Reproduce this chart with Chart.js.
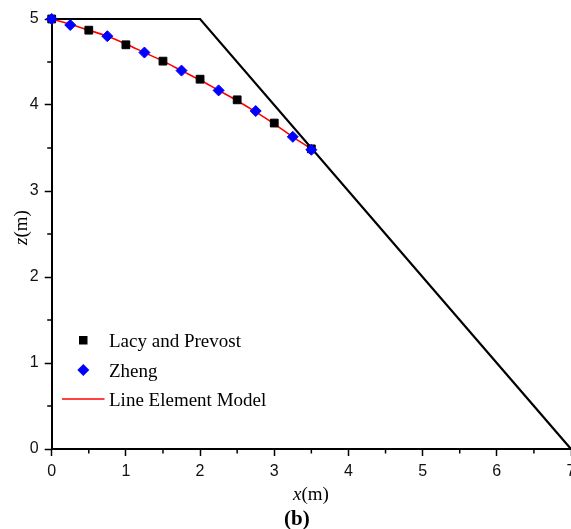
<!DOCTYPE html>
<html>
<head>
<meta charset="utf-8">
<script src="https://cdn.jsdelivr.net/npm/chart.js@4/dist/chart.umd.min.js"></script>
<style>
html, body { margin:0; padding:0; overflow:hidden; background:#fff; width:571px; height:529px; }
#wrap { position:absolute; left:0; top:0; width:600px; height:529px; }
</style>
</head>
<body>
<div id="wrap"><canvas id="c" width="600" height="529"></canvas></div>
<script>
// ---- data ----
const lacyX = [0, 0.5, 1.0, 1.5, 2.0, 2.5, 3.0, 3.5];
const lacyZ = [5.0, 4.87, 4.70, 4.51, 4.30, 4.06, 3.79, 3.49];
const zhengX = [0, 0.25, 0.75, 1.25, 1.75, 2.25, 2.75, 3.25, 3.5];
const zhengZ = [5.0, 4.93, 4.80, 4.61, 4.40, 4.17, 3.93, 3.63, 3.48];
const modelX = [0, 0.25, 0.5, 0.75, 1.0, 1.25, 1.5, 1.75, 2.0, 2.25, 2.5, 2.75, 3.0, 3.25, 3.5];
const modelZ = [5.0, 4.94, 4.87, 4.80, 4.71, 4.61, 4.51, 4.40, 4.29, 4.17, 4.05, 3.92, 3.78, 3.63, 3.49];
const slopeX = [0, 2, 7];
const slopeZ = [5, 5, 0];
const xTicks = [0, 1, 2, 3, 4, 5, 6, 7];
const zTicks = [0, 1, 2, 3, 4, 5];
const legendLabels = ['Lacy and Prevost', 'Zheng', 'Line Element Model'];

const pts = (xs, ys) => xs.map((x, i) => ({x: x, y: ys[i]}));

const minorTicks = {
  id: 'minorTicks',
  afterDraw(chart) {
    const ctx = chart.ctx;
    const xs = chart.scales.x, ys = chart.scales.y;
    const a = chart.chartArea;
    ctx.save();
    ctx.strokeStyle = '#000';
    ctx.lineWidth = 1.5;
    for (let i = 0; i < xTicks.length - 1; i++) {
      const px = xs.getPixelForValue((xTicks[i] + xTicks[i+1]) / 2);
      ctx.beginPath(); ctx.moveTo(px, a.bottom); ctx.lineTo(px, a.bottom + 4.5); ctx.stroke();
    }
    for (let i = 0; i < zTicks.length - 1; i++) {
      const py = ys.getPixelForValue((zTicks[i] + zTicks[i+1]) / 2);
      ctx.beginPath(); ctx.moveTo(a.left, py); ctx.lineTo(a.left - 4.5, py); ctx.stroke();
    }
    ctx.restore();
  }
};

const textPlugin = {
  id: 'texts',
  afterDraw(chart) {
    const ctx = chart.ctx;
    ctx.save();
    ctx.fillStyle = '#000';
    ctx.textBaseline = 'alphabetic';
    ctx.textAlign = 'left';
    // x axis title
    let x = 293, y = 500;
    ctx.font = 'italic 19px "Liberation Serif"';
    ctx.fillText('x', x, y);
    x += ctx.measureText('x').width;
    ctx.font = '19px "Liberation Serif"';
    ctx.fillText('(m)', x, y);
    // (b)
    ctx.font = 'bold 21px "Liberation Serif"';
    ctx.fillText('(b)', 284, 525);
    // z axis title
    ctx.save();
    ctx.translate(27, 245);
    ctx.rotate(-Math.PI / 2);
    ctx.font = 'italic 19px "Liberation Serif"';
    ctx.fillText('z', 0, 0);
    let w = ctx.measureText('z').width;
    ctx.font = '19px "Liberation Serif"';
    ctx.fillText('(m)', w, 0);
    ctx.restore();
    // legend
    const ds = chart.data.datasets;
    ctx.font = '19px "Liberation Serif"';
    ctx.fillStyle = ds[0].backgroundColor;
    ctx.fillRect(79, 336, 8.5, 8.5);
    ctx.fillStyle = '#000';
    ctx.fillText(legendLabels[0], 109, 347);
    ctx.fillStyle = ds[1].backgroundColor;
    ctx.beginPath();
    ctx.moveTo(83.3, 364); ctx.lineTo(89.3, 370); ctx.lineTo(83.3, 376); ctx.lineTo(77.3, 370); ctx.closePath();
    ctx.fill();
    ctx.fillStyle = '#000';
    ctx.fillText(legendLabels[1], 109, 376.5);
    ctx.strokeStyle = ds[2].borderColor;
    ctx.lineWidth = 1.5;
    ctx.beginPath(); ctx.moveTo(62, 399); ctx.lineTo(104.5, 399); ctx.stroke();
    ctx.fillText(legendLabels[2], 109, 406);
    ctx.restore();
  }
};

new Chart(document.getElementById('c'), {
  type: 'scatter',
  data: {
    datasets: [
      { label: legendLabels[0], data: pts(lacyX, lacyZ), pointStyle: 'rect', pointRadius: 5.5, pointBorderWidth: 1,
        backgroundColor: '#000', borderColor: '#000', showLine: false, order: 1, clip: false },
      { label: legendLabels[1], data: pts(zhengX, zhengZ), pointStyle: 'rectRot', pointRadius: 5.5, pointBorderWidth: 1,
        backgroundColor: '#0000ff', borderColor: '#0000ff', showLine: false, order: 0, clip: false },
      { label: legendLabels[2], data: pts(modelX, modelZ), showLine: true, pointRadius: 0, borderColor: '#ff0000',
        backgroundColor: '#ff0000', borderWidth: 1.6, cubicInterpolationMode: 'monotone', order: 2, clip: false },
      { label: 'slope', data: pts(slopeX, slopeZ), showLine: true, pointRadius: 0, borderColor: '#000',
        backgroundColor: '#000', borderWidth: 2.2, tension: 0, order: 3, clip: false }
    ]
  },
  options: {
    responsive: false,
    animation: false,
    events: [],
    layout: { padding: { top: 19, right: 29, left: 0, bottom: 0 } },
    plugins: { legend: { display: false }, tooltip: { enabled: false } },
    scales: {
      x: {
        type: 'linear', min: 0, max: 7,
        afterBuildTicks: (s) => { s.ticks = xTicks.map(v => ({value: v})); },
        afterFit: (s) => { s.height = 80; },
        border: { display: true, color: '#000', width: 2 },
        grid: { display: true, drawOnChartArea: false, drawTicks: true, tickLength: 7, tickColor: '#000', tickWidth: 1.5 },
        ticks: { autoSkip: false, maxRotation: 0, padding: 6, color: '#111',
                 font: { family: '"Liberation Sans", Arial', size: 16 } }
      },
      y: {
        type: 'linear', min: 0, max: 5,
        afterBuildTicks: (s) => { s.ticks = zTicks.map(v => ({value: v})); },
        afterFit: (s) => { s.width = 51.7; },
        border: { display: true, color: '#000', width: 2 },
        grid: { display: true, drawOnChartArea: false, drawTicks: true, tickLength: 7, tickColor: '#000', tickWidth: 1.5 },
        ticks: { autoSkip: false, padding: 6, color: '#111',
                 font: { family: '"Liberation Sans", Arial', size: 16 } }
      }
    }
  },
  plugins: [minorTicks, textPlugin]
});
</script>
</body>
</html>
